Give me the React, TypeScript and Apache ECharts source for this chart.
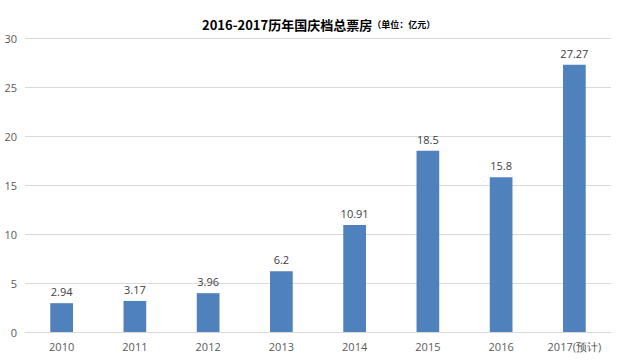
import React, { useEffect, useRef } from "react";
import * as echarts from "echarts";

const categories = ["2010", "2011", "2012", "2013", "2014", "2015", "2016", "2017(预计)"];
const values = [2.94, 3.17, 3.96, 6.2, 10.91, 18.5, 15.8, 27.27];
const yTicks = [0, 5, 10, 15, 20, 25, 30];

export default function App() {
  const ref = useRef<HTMLDivElement>(null);
  useEffect(() => {
    if (!ref.current) return;
    const chart = echarts.init(ref.current, null, { renderer: "svg" });
    chart.setOption({
      animation: false,
      backgroundColor: "#ffffff",
      title: {
        text: "{m|2016-2017历年国庆档总票房}{s|（单位：亿元）}",
        left: 197,
        top: 6,
        textStyle: {
          rich: {
            m: {
              fontSize: 13,
              fontWeight: "bold",
              color: "#000",
              lineHeight: 20,
              verticalAlign: "bottom",
              fontFamily: "'Noto Sans CJK SC', sans-serif",
            },
            s: {
              fontSize: 9,
              fontWeight: "bold",
              color: "#000",
              lineHeight: 20,
              verticalAlign: "bottom",
              padding: [0, 0, 2, 0],
              fontFamily: "'Noto Sans CJK SC', sans-serif",
            },
          },
        },
      },
      grid: { left: 25, right: 9, top: 38, bottom: 28, containLabel: false },
      xAxis: {
        type: "category",
        data: categories,
        axisLine: { show: true, lineStyle: { color: "#d9d9d9" } },
        axisTick: { show: false },
        axisLabel: { interval: 0, color: "#595959", fontSize: 11, margin: 9, fontFamily: "'Open Sans', sans-serif" },
      },
      yAxis: {
        type: "value",
        min: yTicks[0],
        max: yTicks[yTicks.length - 1],
        interval: 5,
        axisLine: { show: false },
        axisTick: { show: false },
        splitLine: { lineStyle: { color: "#d9d9d9" } },
        axisLabel: { color: "#595959", fontSize: 11, margin: 8, fontFamily: "'Open Sans', sans-serif" },
      },
      series: [
        {
          type: "bar",
          data: values,
          barWidth: "31%",
          itemStyle: { color: "#4f81bd" },
          label: {
            show: true,
            position: "top",
            distance: 6,
            color: "#404040",
            fontSize: 11,
            fontFamily: "'Open Sans', sans-serif",
          },
        },
      ],
    });
    return () => chart.dispose();
  }, []);
  return <div ref={ref} style={{ width: 620, height: 360, position: "absolute", left: 0, top: 0 }} />;
}
